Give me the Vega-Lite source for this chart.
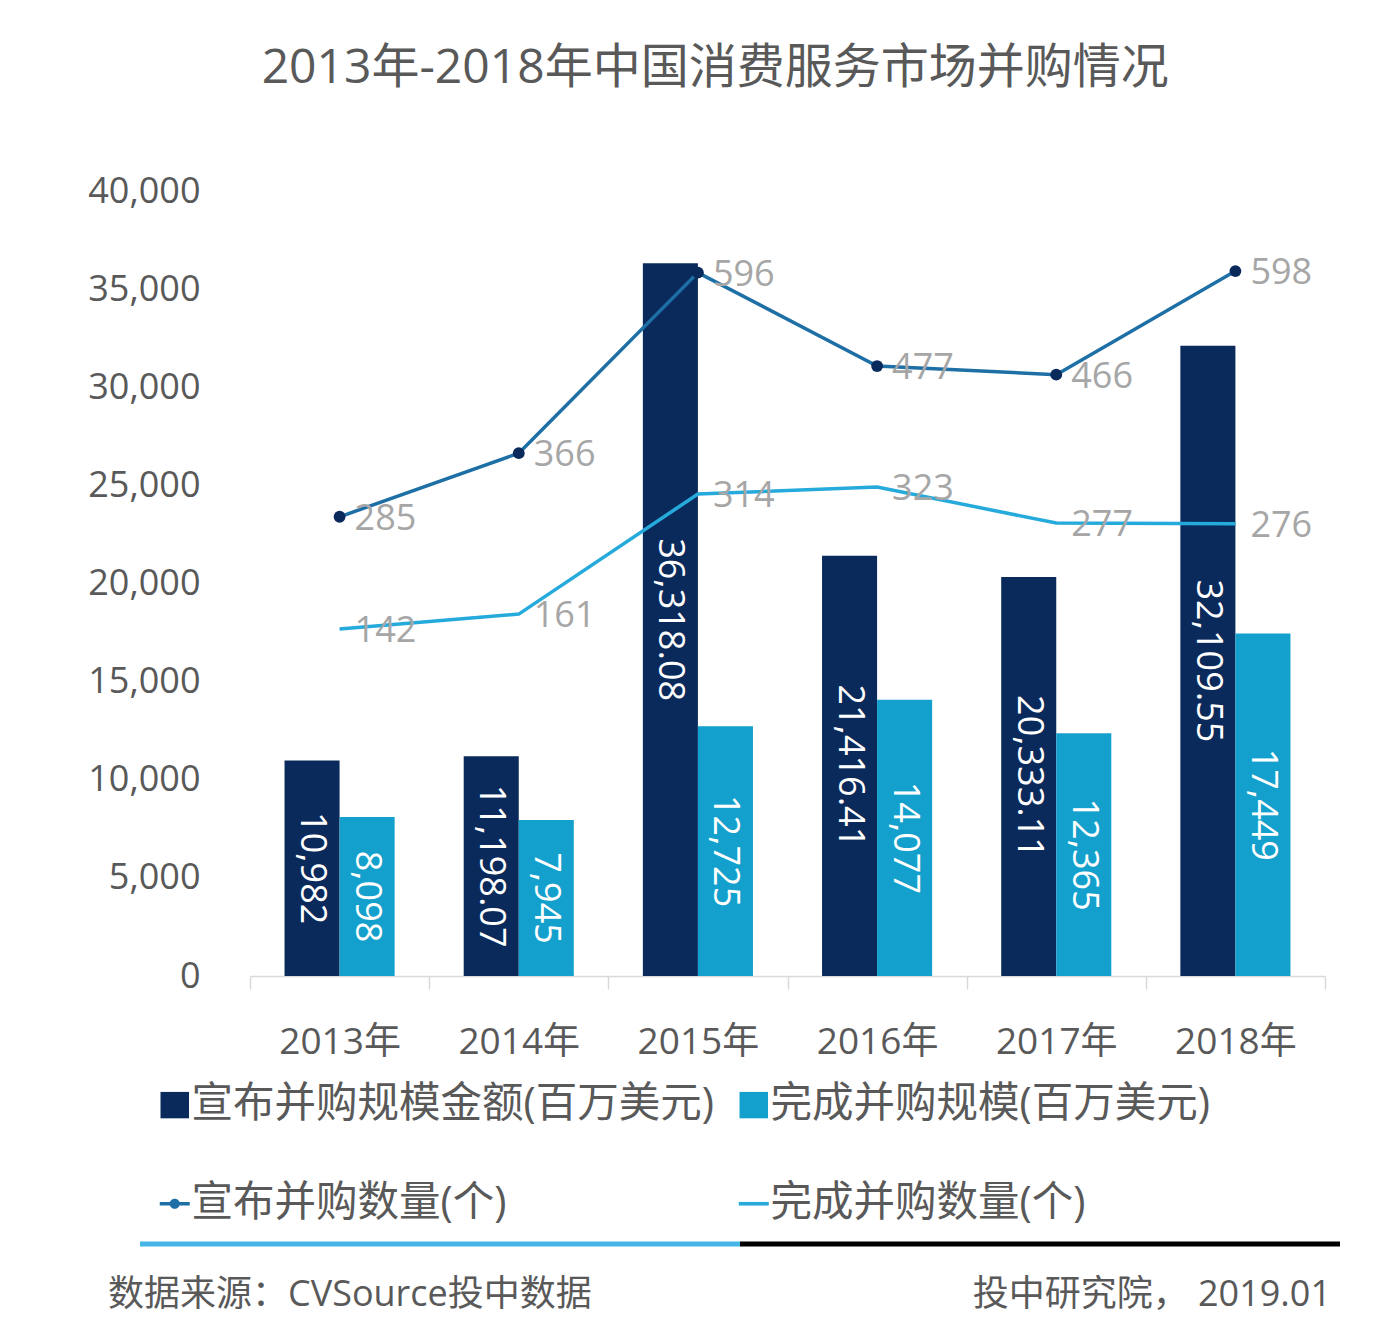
{
  "$schema": "https://vega.github.io/schema/vega-lite/v6.json",
  "background": "white",
  "padding": {"left": 87, "top": 45, "right": 0, "bottom": 0},
  "config": {
    "font": "Open Sans, Noto Sans CJK SC",
    "view": {"stroke": null},
    "axis": {"grid": false}
  },
  "title": {
    "text": "2013年-2018年中国消费服务市场并购情况",
    "fontSize": 48,
    "fontWeight": "normal",
    "color": "#595959",
    "anchor": "middle",
    "offset": 80
  },
  "datasets": {
    "bars": [
      {"year": "2013年", "series": "宣布并购规模金额(百万美元)", "value": 10982},
      {"year": "2013年", "series": "完成并购规模(百万美元)", "value": 8098},
      {"year": "2014年", "series": "宣布并购规模金额(百万美元)", "value": 11198.07},
      {"year": "2014年", "series": "完成并购规模(百万美元)", "value": 7945},
      {"year": "2015年", "series": "宣布并购规模金额(百万美元)", "value": 36318.08},
      {"year": "2015年", "series": "完成并购规模(百万美元)", "value": 12725},
      {"year": "2016年", "series": "宣布并购规模金额(百万美元)", "value": 21416.41},
      {"year": "2016年", "series": "完成并购规模(百万美元)", "value": 14077},
      {"year": "2017年", "series": "宣布并购规模金额(百万美元)", "value": 20333.11},
      {"year": "2017年", "series": "完成并购规模(百万美元)", "value": 12365},
      {"year": "2018年", "series": "宣布并购规模金额(百万美元)", "value": 32109.55},
      {"year": "2018年", "series": "完成并购规模(百万美元)", "value": 17449}
    ],
    "lines": [
      {"year": "2013年", "series": "宣布并购数量(个)", "count": 285},
      {"year": "2014年", "series": "宣布并购数量(个)", "count": 366},
      {"year": "2015年", "series": "宣布并购数量(个)", "count": 596},
      {"year": "2016年", "series": "宣布并购数量(个)", "count": 477},
      {"year": "2017年", "series": "宣布并购数量(个)", "count": 466},
      {"year": "2018年", "series": "宣布并购数量(个)", "count": 598},
      {"year": "2013年", "series": "完成并购数量(个)", "count": 142},
      {"year": "2014年", "series": "完成并购数量(个)", "count": 161},
      {"year": "2015年", "series": "完成并购数量(个)", "count": 314},
      {"year": "2016年", "series": "完成并购数量(个)", "count": 323},
      {"year": "2017年", "series": "完成并购数量(个)", "count": 277},
      {"year": "2018年", "series": "完成并购数量(个)", "count": 276}
    ],
    "footerLine": [
      {"part": "left", "start": 0, "end": 1},
      {"part": "right", "start": 1, "end": 2}
    ],
    "footerLeft": [{"label": "数据来源：CVSource投中数据", "pos": 0}],
    "footerRight": [{"label": "投中研究院， 2019.01", "pos": 2}]
  },
  "resolve": {"scale": {"color": "independent", "x": "independent", "y": "independent"}, "legend": {"color": "independent"}},
  "spacing": 16,
  "vconcat": [
    {
      "width": 1075,
      "height": 785,
      "resolve": {"scale": {"y": "independent"}},
      "layer": [
        {
          "data": {"name": "bars"},
          "mark": {"type": "bar"},
          "encoding": {
            "x": {
              "field": "year", "type": "nominal",
              "scale": {"paddingInner": 0, "paddingOuter": 0},
              "axis": {
                "title": null, "labelAngle": 0, "labelFontSize": 37, "labelColor": "#595959",
                "domainColor": "#d9d9d9", "domainWidth": 1.5, "tickColor": "#d9d9d9", "tickWidth": 1.5,
                "tickSize": 13, "tickBand": "extent", "labelPadding": 35
              }
            },
            "xOffset": {
              "field": "series", "type": "nominal",
              "sort": ["宣布并购规模金额(百万美元)", "完成并购规模(百万美元)"],
              "scale": {"paddingInner": 0, "paddingOuter": 0.6273}
            },
            "y": {
              "field": "value", "type": "quantitative",
              "scale": {"domain": [0, 40000], "nice": false},
              "axis": {
                "title": null, "values": [0, 5000, 10000, 15000, 20000, 25000, 30000, 35000, 40000],
                "format": ",.0f", "labelFontSize": 36, "labelColor": "#595959", "domain": false,
                "ticks": false, "tickSize": 0, "labelPadding": 50
              }
            },
            "color": {
              "field": "series", "type": "nominal",
              "scale": {
                "domain": ["宣布并购规模金额(百万美元)", "完成并购规模(百万美元)", "宣布并购数量(个)", "完成并购数量(个)"],
                "range": ["#0b2a5c", "#14a0cc", "#1d6fa5", "#25aadb"]
              },
              "legend": {
                "title": null, "orient": "none", "legendX": -96, "legendY": 893,
                "direction": "horizontal", "columns": 2, "columnPadding": 19, "rowPadding": 56,
                "labelFontSize": 41.5, "labelColor": "#595959", "labelLimit": 0, "labelOffset": -4,
                "symbolSize": 900, "padding": 0,
                "encode": {
                  "symbols": {
                    "update": {
                      "shape": [
                        {"test": "datum.value === '宣布并购数量(个)'", "value": "M-1,-0.12H1V0.12H-1Z M0.34,0A0.34,0.34,0,1,1,-0.34,0A0.34,0.34,0,1,1,0.34,0Z"},
                        {"test": "datum.value === '完成并购数量(个)'", "value": "M-1,-0.12H1V0.12H-1Z"},
                        {"value": "M-0.95,-0.88H0.95V0.88H-0.95Z"}
                      ],
                      "fill": {"scale": "color", "field": "value"},
                      "stroke": {"value": "transparent"},
                      "strokeWidth": {"value": 0},
                      "opacity": {"value": 1},
                      "size": {"value": 900}
                    }
                  }
                }
              }
            }
          }
        },
        {
          "data": {"name": "bars"},
          "mark": {"type": "text", "angle": 90, "align": "center", "baseline": "middle", "fontSize": 36, "color": "white"},
          "encoding": {
            "x": {"field": "year", "type": "nominal"},
            "xOffset": {"field": "series", "type": "nominal", "sort": ["宣布并购规模金额(百万美元)", "完成并购规模(百万美元)"]},
            "y": {"field": "value", "type": "quantitative", "scale": {"domain": [0, 80000], "nice": false}, "axis": null},
            "text": {"field": "value", "type": "quantitative", "format": ",.2~f"}
          }
        },
        {
          "data": {"name": "lines"},
          "encoding": {
            "x": {"field": "year", "type": "nominal"},
            "y": {"field": "count", "type": "quantitative", "scale": {"domain": [-300, 700], "nice": false, "zero": false}, "axis": null}
          },
          "layer": [
            {
              "mark": {"type": "line", "strokeWidth": 3.5},
              "encoding": {"color": {"field": "series", "type": "nominal"}}
            },
            {
              "transform": [{"filter": "datum.series === '宣布并购数量(个)'"}],
              "mark": {"type": "point", "filled": true, "size": 140, "color": "#0b2a5c", "opacity": 1}
            },
            {
              "mark": {"type": "text", "align": "left", "baseline": "middle", "dx": 15, "dy": 2, "fontSize": 36, "color": "#a6a6a6"},
              "encoding": {"text": {"field": "count", "type": "quantitative"}}
            }
          ]
        }
      ]
    },
    {
      "width": 1090,
      "height": 72,
      "layer": [
        {
          "data": {"name": "footerLine"},
          "mark": {"type": "rule", "strokeWidth": 5},
          "encoding": {
            "x": {"field": "start", "type": "quantitative", "scale": {"domain": [0, 2], "range": [-110, 1090], "nice": false, "zero": false}, "axis": null},
            "x2": {"field": "end"},
            "y": {"datum": 1, "type": "quantitative", "scale": {"domain": [-0.4, 1], "nice": false, "zero": false}, "axis": null},
            "color": {"field": "part", "type": "nominal", "scale": {"domain": ["left", "right"], "range": ["#45b5e8", "#000000"]}, "legend": null}
          }
        },
        {
          "data": {"name": "footerLeft"},
          "mark": {"type": "text", "align": "left", "baseline": "middle", "dx": -32, "fontSize": 36, "color": "#595959"},
          "encoding": {
            "x": {"field": "pos", "type": "quantitative"},
            "y": {"datum": 0, "type": "quantitative"},
            "text": {"field": "label"}
          }
        },
        {
          "data": {"name": "footerRight"},
          "mark": {"type": "text", "align": "right", "baseline": "middle", "dx": -9, "fontSize": 36, "color": "#595959"},
          "encoding": {
            "x": {"field": "pos", "type": "quantitative"},
            "y": {"datum": 0, "type": "quantitative"},
            "text": {"field": "label"}
          }
        }
      ]
    }
  ]
}
